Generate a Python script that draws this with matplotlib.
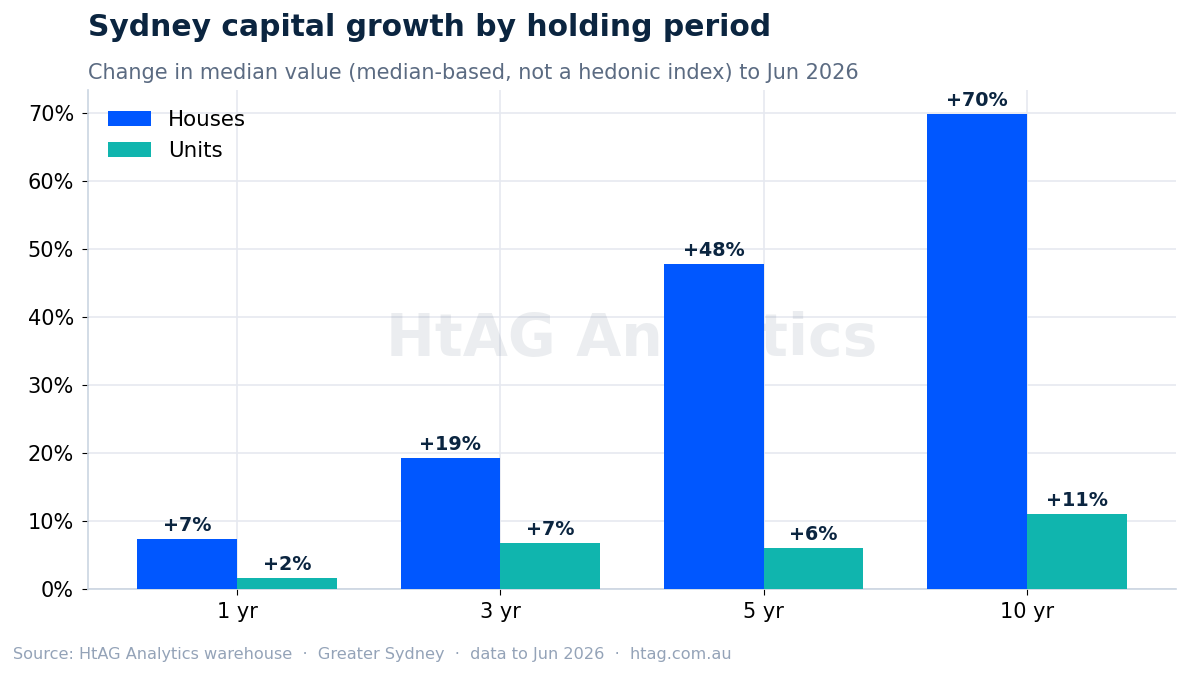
import matplotlib
matplotlib.use("Agg")
import matplotlib.pyplot as plt
import numpy as np
from matplotlib.ticker import FuncFormatter

# Data
periods = ["1 yr", "3 yr", "5 yr", "10 yr"]
houses = [7.35, 19.3, 47.8, 69.85]
units = [1.6, 6.8, 6.0, 11.0]
house_labels = ["+7%", "+19%", "+48%", "+70%"]
unit_labels = ["+2%", "+7%", "+6%", "+11%"]

NAVY = "#0b2540"
BLUE = "#0057ff"
TEAL = "#10b5ae"

fig = plt.figure(figsize=(11.89, 6.76), dpi=100)
ax = fig.add_axes([88 / 1189, 1 - 589 / 676, (1176 - 88) / 1189, (589 - 90) / 676])

x = np.arange(len(periods))
w = 0.38
b1 = ax.bar(x - w / 2, houses, w, color=BLUE, label="Houses", zorder=3)
b2 = ax.bar(x + w / 2, units, w, color=TEAL, label="Units", zorder=3)

for bars, labels in ((b1, house_labels), (b2, unit_labels)):
    for rect, lab in zip(bars, labels):
        ax.annotate(lab, (rect.get_x() + rect.get_width() / 2, rect.get_height()),
                    xytext=(0, 3), textcoords="offset points", ha="center", va="bottom",
                    fontsize=13.8, fontweight="bold", color=NAVY, zorder=4)

ax.set_ylim(0, 73.4)
ax.set_xticks(x)
ax.set_xticklabels(periods)
ax.set_yticks(range(0, 71, 10))
ax.yaxis.set_major_formatter(FuncFormatter(lambda v, _: f"{v:.0f}%"))
ax.tick_params(axis="both", labelsize=15, colors="black", length=4)
ax.tick_params(axis="y", pad=6)
ax.tick_params(axis="x", pad=5)

ax.grid(True, color="#e6e9f0", linewidth=1.2, zorder=0)
ax.set_axisbelow(True)
for s in ("top", "right"):
    ax.spines[s].set_visible(False)
for s in ("left", "bottom"):
    ax.spines[s].set_color("#cbd5e1")
    ax.spines[s].set_linewidth(1.2)

ax.text(0.5, 0.5, "HtAG Analytics", transform=ax.transAxes, ha="center", va="center",
        fontsize=42, fontweight="bold", color="#0b2540", alpha=0.08, zorder=1)

leg = ax.legend(loc="upper left", fontsize=15.4, frameon=False, handlelength=2.0,
                handleheight=0.7, borderaxespad=0.55)

fig.text(88 / 1189, 1 - 27 / 676, "Sydney capital growth by holding period",
         fontsize=21.4, fontweight="bold", color=NAVY, ha="left", va="center")
fig.text(88 / 1189, 1 - 73 / 676,
         "Change in median value (median-based, not a hedonic index) to Jun 2026",
         fontsize=15, color="#5b6b82", ha="left", va="center")
fig.text(13 / 1189, 1 - 655 / 676,
         "Source: HtAG Analytics warehouse  \u00b7  Greater Sydney  \u00b7  data to Jun 2026  \u00b7  htag.com.au",
         fontsize=11.6, color="#94a3b8", ha="left", va="center")

fig.savefig("out.png", dpi=100)
